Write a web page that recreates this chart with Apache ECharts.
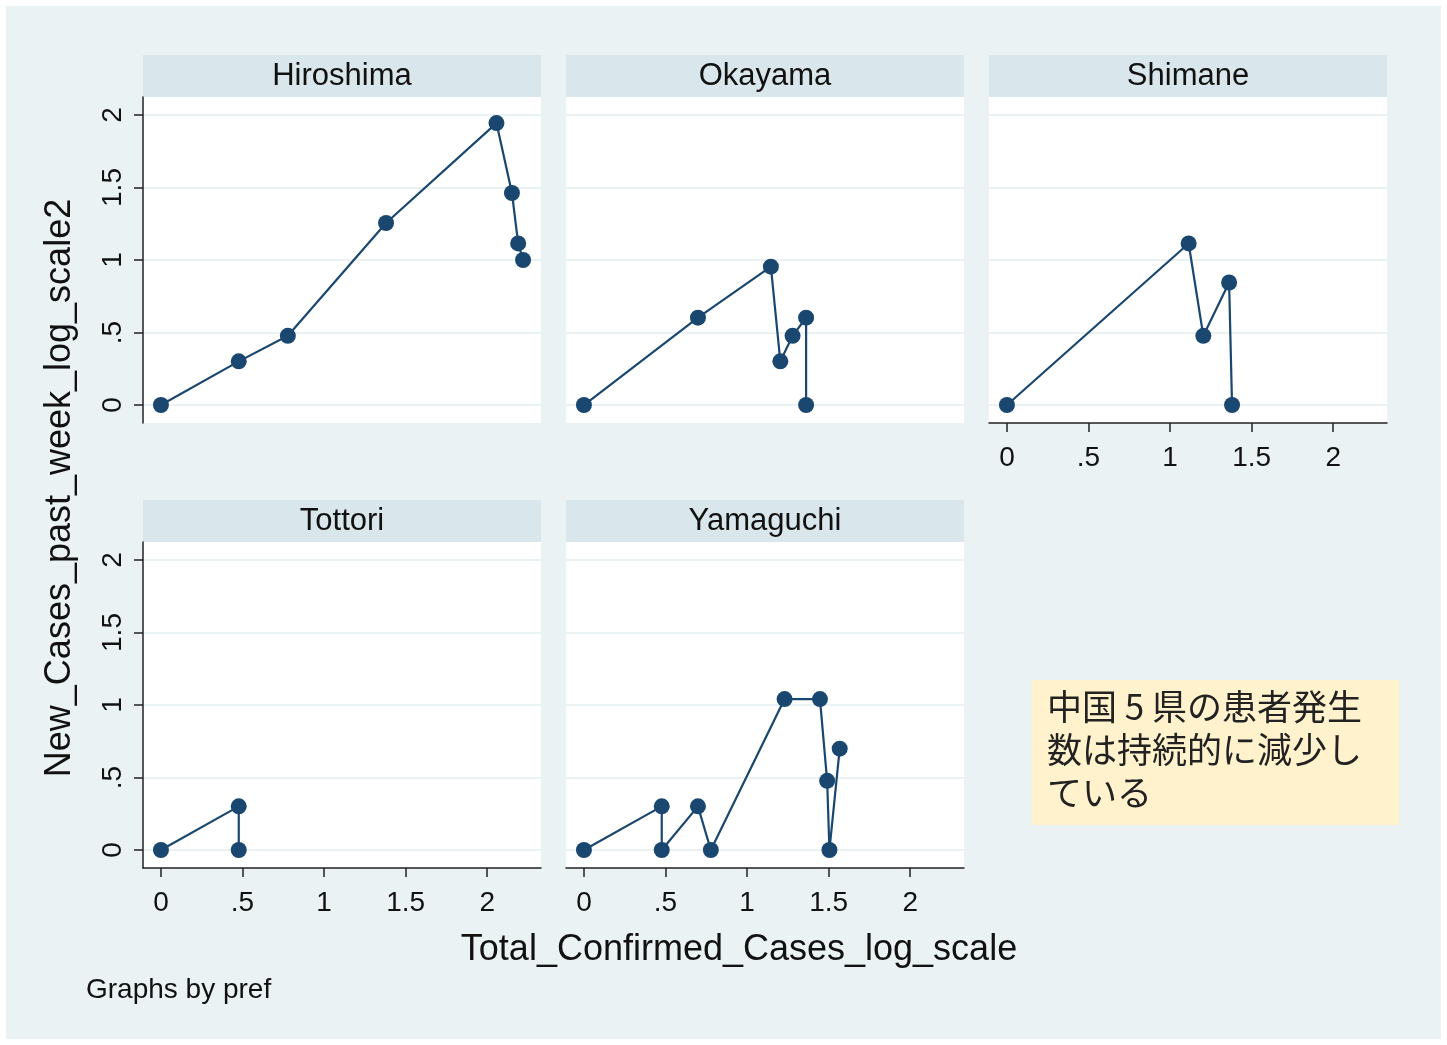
<!DOCTYPE html>
<html>
<head>
<meta charset="utf-8">
<script src="https://cdn.jsdelivr.net/npm/echarts@6/dist/echarts.min.js"></script>
<style>
  html, body { margin: 0; padding: 0; background: #fff; }
  #chart { width: 1447px; height: 1045px; }
</style>
</head>
<body>
<div id="chart"></div>
<script>
// panels (by pref)
const prefs = ["Hiroshima", "Okayama", "Shimane", "Tottori", "Yamaguchi"];
// Total_Confirmed_Cases_log_scale
const hiroshimaX = [0, 0.477, 0.778, 1.380, 2.057, 2.152, 2.190, 2.220];
const okayamaX = [0, 0.699, 1.146, 1.204, 1.279, 1.362, 1.362];
const shimaneX = [0, 1.114, 1.204, 1.362, 1.380];
const tottoriX = [0, 0.477, 0.477];
const yamaguchiX = [0, 0.477, 0.477, 0.699, 0.778, 1.230, 1.447, 1.491, 1.505, 1.568];
// New_Cases_past_week_log_scale2
const hiroshimaY = [0, 0.301, 0.477, 1.255, 1.944, 1.462, 1.114, 1.0];
const okayamaY = [0, 0.602, 0.954, 0.301, 0.477, 0.602, 0];
const shimaneY = [0, 1.114, 0.477, 0.845, 0];
const tottoriY = [0, 0.301, 0];
const yamaguchiY = [0, 0.301, 0, 0.301, 0, 1.041, 1.041, 0.477, 0, 0.699];
// tick labels
const ticks = [0, 0.5, 1, 1.5, 2];

const xs = [hiroshimaX, okayamaX, shimaneX, tottoriX, yamaguchiX];
const ys = [hiroshimaY, okayamaY, shimaneY, tottoriY, yamaguchiY];

const navy = "#1A476F";
const font = "Liberation Sans, Arial, sans-serif";
const fmt = v => String(v).replace(/^0\./, ".");

// panel placement
const panelW = 398, panelH = 326, stripH = 42;
const lefts = [143, 566, 989, 143, 566];
const tops = [97, 97, 97, 542, 542];
const showY = [true, false, false, true, false];
const showX = [false, false, true, true, true];

let chart = echarts.init(document.getElementById("chart"));

const grid = [], xAxis = [], yAxis = [], series = [];
const graphic = [
  { type: "rect", shape: { x: 6, y: 6, width: 1435, height: 1033 }, style: { fill: "#EAF2F3" }, z: -10 },
];

prefs.forEach((name, i) => {
  grid.push({ left: lefts[i], top: tops[i], width: panelW, height: panelH, show: true, backgroundColor: "#fff", borderWidth: 0 });
  graphic.push({
    type: "rect",
    shape: { x: lefts[i], y: tops[i] - stripH, width: panelW, height: stripH },
    style: { fill: "#D9E6EB" },
  });
  graphic.push({
    type: "text",
    x: lefts[i] + panelW / 2, y: tops[i] - stripH / 2,
    style: { text: name, font: "31px " + font, fill: "#111", align: "center", verticalAlign: "middle" },
  });
  xAxis.push({
    type: "value", gridIndex: i, min: -0.11, max: 2.33,
    show: true,
    axisLine: { show: showX[i], onZero: false, lineStyle: { color: "#222", width: 1.5 } },
    axisTick: { show: showX[i], length: 9, customValues: ticks, lineStyle: { color: "#222", width: 1.5 } },
    axisLabel: { show: showX[i], customValues: ticks, formatter: fmt, margin: 21, fontSize: 28, fontFamily: font, color: "#111" },
    splitLine: { show: false },
  });
  yAxis.push({
    type: "value", gridIndex: i, min: -0.124, max: 2.124,
    axisLine: { show: showY[i], onZero: false, lineStyle: { color: "#222", width: 1.5 } },
    axisTick: { show: showY[i], length: 9, customValues: ticks, lineStyle: { color: "#222", width: 1.5 } },
    axisLabel: { show: showY[i], customValues: ticks, formatter: fmt, rotate: 90, margin: 16, fontSize: 28, fontFamily: font, color: "#111" },
    splitLine: { show: true, lineStyle: { color: "#EAF2F3", width: 2 } },
  });
  series.push({
    name: name, type: "line", xAxisIndex: i, yAxisIndex: i,
    data: xs[i].map((x, k) => [x, ys[i][k]]),
    symbol: "circle", symbolSize: 16,
    itemStyle: { color: navy },
    lineStyle: { color: navy, width: 2.2 },
    animation: false,
  });
});

graphic.push(
  {
    type: "text", x: 60, y: 488, rotation: Math.PI / 2,
    style: { text: "New_Cases_past_week_log_scale2", font: "36px " + font, fill: "#111", align: "center", verticalAlign: "middle" },
  },
  {
    type: "text", x: 739, y: 950,
    style: { text: "Total_Confirmed_Cases_log_scale", font: "36px " + font, fill: "#111", align: "center", verticalAlign: "middle" },
  },
  {
    type: "text", x: 86, y: 990,
    style: { text: "Graphs by pref", font: "28px " + font, fill: "#111", align: "left", verticalAlign: "middle" },
  },
  {
    type: "rect", shape: { x: 1032, y: 680, width: 367, height: 145 }, style: { fill: "#FFF2CC" },
  },
  {
    type: "text", x: 1047, y: 685,
    style: {
      text: "中国 5 県の患者発生\n数は持続的に減少し\nている",
      font: "35px 'Noto Sans CJK JP'", lineHeight: 43, fill: "#222", align: "left", verticalAlign: "top",
    },
  }
);

chart.setOption({
  backgroundColor: "#fff",
  animation: false,
  grid, xAxis, yAxis, series, graphic,
});
</script>
</body>
</html>
